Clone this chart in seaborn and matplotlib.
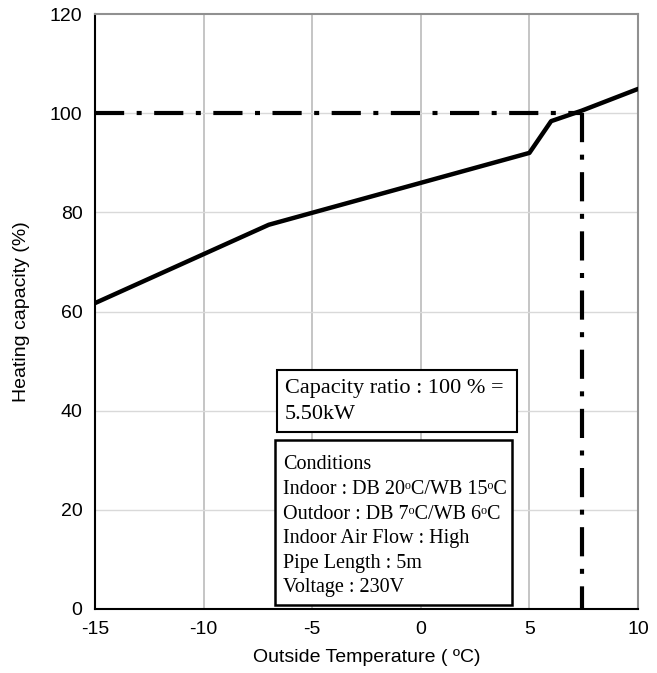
import numpy as np
import pandas as pd
import seaborn as sns
import matplotlib as mpl
import matplotlib.pyplot as plt
from matplotlib.patches import Rectangle

mpl.use('Agg')

# 数据
temps = [-15, -7, 5, 6, 7.4, 10]
capacity = [61.7, 77.5, 92.0, 98.4, 100.5, 104.9]
ref_temp = 7.4
ref_cap = 100.0
xticks = [-15, -10, -5, 0, 5, 10]
yticks = [0, 20, 40, 60, 80, 100, 120]
ratio_text = "Capacity ratio : 100 % =\n5.50kW"
cond_lines = ["Conditions",
              "Indoor : DB 20\u1d52C/WB 15\u1d52C",
              "Outdoor : DB 7\u1d52C/WB 6\u1d52C",
              "Indoor Air Flow : High",
              "Pipe Length : 5m",
              "Voltage : 230V"]

sns.set_style('white')
plt.rcParams['font.family'] = ['Liberation Sans', 'DejaVu Sans']
plt.rcParams['text.color'] = 'black'
plt.rcParams['axes.labelcolor'] = 'black'
plt.rcParams['xtick.color'] = 'black'
plt.rcParams['ytick.color'] = 'black'

df = pd.DataFrame({'Temp': temps, 'Capacity': capacity})

fig = plt.figure(figsize=(6.57, 6.73), dpi=100)
ax = fig.add_axes([0.1446, 0.0951, 0.8265, 0.884])

# 网格
for x in xticks[1:-1]:
    ax.axvline(x, color='#c0c0c0', linewidth=1.3, zorder=0)
for y in yticks[1:-1]:
    ax.axhline(y, color='#d9d9d9', linewidth=1.0, zorder=0)

sns.lineplot(data=df, x='Temp', y='Capacity', ax=ax, color='black',
             linewidth=3.2, zorder=3, sort=True)

# 参考线 (点划线)
dash = (7, 3, 1.2, 3)
ax.plot([xticks[0], ref_temp], [ref_cap, ref_cap], color='black', linewidth=3,
        dashes=dash, zorder=2)
ax.plot([ref_temp, ref_temp], [ref_cap, 0], color='black', linewidth=3,
        dashes=dash, zorder=2)

ax.set_xlim(-15, 10)
ax.set_ylim(0, 120)
ax.set_xticks(xticks)
ax.set_yticks(yticks)
ax.set_xticklabels([str(t) for t in xticks], fontsize=14)
ax.set_yticklabels([str(t) for t in yticks], fontsize=14)
ax.tick_params(direction='out', length=5, width=1, color='#404040', pad=4)
ax.set_xlabel('Outside Temperature ( \u00baC)', fontsize=14, labelpad=0)
ax.set_ylabel('Heating capacity (%)', fontsize=14, labelpad=14)
ax.xaxis.set_label_coords(0.5, -0.068)

for side in ['left', 'bottom']:
    ax.spines[side].set_color('black')
    ax.spines[side].set_linewidth(1.5)
for side in ['top', 'right']:
    ax.spines[side].set_color('#909090')
    ax.spines[side].set_linewidth(1.5)

# 文本框
serif = ['Liberation Serif', 'DejaVu Serif']
ax.add_patch(Rectangle((-6.62, 35.7), 11.05, 12.5, facecolor='white',
                       edgecolor='black', linewidth=1.5, zorder=5))
ax.text(-6.25, 46.4, ratio_text, fontsize=16, family=serif,
        va='top', ha='left', linespacing=1.5, zorder=6)
ax.add_patch(Rectangle((-6.71, 0.8), 10.9, 33.3, facecolor='white',
                       edgecolor='black', linewidth=1.8, zorder=5))
ax.text(-6.35, 31.0, "\n".join(cond_lines), fontsize=14.5, family=serif,
        va='top', ha='left', linespacing=1.4, zorder=6)

fig.savefig('out.png', dpi=100)
